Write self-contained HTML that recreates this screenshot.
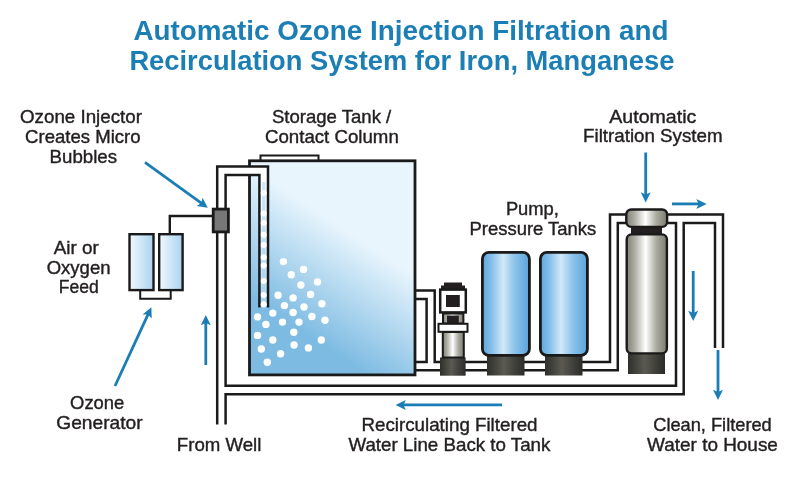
<!DOCTYPE html>
<html>
<head>
<meta charset="utf-8">
<title>Automatic Ozone Injection Filtration and Recirculation System</title>
<style>
html,body{margin:0;padding:0;background:#fff;}
body{width:800px;height:480px;overflow:hidden;font-family:"Liberation Sans",sans-serif;}
svg{display:block;will-change:transform;}
.t{font-family:"Liberation Sans",sans-serif;font-size:18.5px;fill:#231f20;stroke:#231f20;stroke-width:0.4;text-anchor:middle;}
.h{font-family:"Liberation Sans",sans-serif;font-weight:bold;font-size:27.5px;fill:#1b7eb5;text-anchor:middle;}
.p{fill:none;stroke:#1a1a1a;stroke-width:2.5;stroke-linejoin:miter;stroke-linecap:butt;}
.a{stroke:#1a7db6;stroke-width:2.8;fill:none;}
.ah{fill:#1a7db6;stroke:none;}
</style>
</head>
<body>
<svg width="800" height="480" viewBox="0 0 800 480">
<defs>
<linearGradient id="gTank" gradientUnits="userSpaceOnUse" x1="361.7" y1="240.7" x2="301.2" y2="331.2">
<stop offset="0" stop-color="#e8f5fd"/><stop offset="1" stop-color="#7dbbe2"/>
</linearGradient>
<linearGradient id="gGen" x1="0" y1="0" x2="1" y2="0">
<stop offset="0" stop-color="#f2f9fe"/><stop offset="1" stop-color="#a9d3f0"/>
</linearGradient>
<linearGradient id="gPT" x1="0" y1="0" x2="1" y2="0">
<stop offset="0" stop-color="#5ea6dc"/><stop offset="0.2" stop-color="#86c0ea"/><stop offset="0.44" stop-color="#d2e8f8"/><stop offset="0.68" stop-color="#8cc4ea"/><stop offset="1" stop-color="#5ba3da"/>
</linearGradient>
<linearGradient id="gSil" x1="0" y1="0" x2="1" y2="0">
<stop offset="0" stop-color="#818176"/><stop offset="0.2" stop-color="#adada3"/><stop offset="0.47" stop-color="#ffffff"/><stop offset="0.74" stop-color="#aaaaa0"/><stop offset="1" stop-color="#7c7c71"/>
</linearGradient>
<linearGradient id="gBase" x1="0" y1="0" x2="1" y2="0">
<stop offset="0" stop-color="#2f2f2b"/><stop offset="0.45" stop-color="#5a5a52"/><stop offset="1" stop-color="#2b2b28"/>
</linearGradient>
</defs>
<rect width="800" height="480" fill="#fff"/>

<!-- TITLE -->
<g id="title">
<text class="h" x="401" y="40" textLength="535" lengthAdjust="spacingAndGlyphs">Automatic Ozone Injection Filtration and</text>
<text class="h" x="401.9" y="69.6" textLength="545" lengthAdjust="spacingAndGlyphs">Recirculation System for Iron, Manganese</text>
</g>

<!-- STORAGE TANK -->
<g id="tank">
<rect x="260.5" y="155.5" width="58" height="6" fill="#fff" stroke="#1a1a1a" stroke-width="2"/>
<rect x="249.5" y="160.8" width="165.5" height="214.1" fill="url(#gTank)" stroke="#1a1a1a" stroke-width="2.8"/>
</g>

<!-- PIPES -->
<g id="pipes">
<!-- well pipe fill -->
<path d="M217,424.6 V166.5 H268 V176 H225.6 V424.6 Z" fill="#fff" stroke="none"/>
<linearGradient id="gTube" gradientUnits="userSpaceOnUse" x1="0" y1="176" x2="0" y2="307"><stop offset="0" stop-color="#fff" stop-opacity="1"/><stop offset="0.12" stop-color="#fff" stop-opacity="0.95"/><stop offset="0.5" stop-color="#fff" stop-opacity="0.55"/><stop offset="1" stop-color="#fff" stop-opacity="0.35"/></linearGradient>
<rect x="259.4" y="175" width="8.6" height="132.5" fill="url(#gTube)"/>
<path class="p" d="M217.2,424.6 V166.5 H268 V307.5"/>
<path class="p" d="M259.4,307.5 V175 H225.6 V385.8 H676 V223 H617.8 V370.2 H416"/>
<path class="p" d="M225.6,424.6 V394.2 H683.7 V223 H715 V348"/>
<path class="p" d="M723,348 V214.6 H610 V362 H465"/>
<path class="p" d="M440,362 H434.7 V290.6 H416"/>
<path class="p" d="M416,299 H426.6 V362 H416"/>
</g>

<!-- PIPE BUBBLES / DROP TUBE -->
<g id="droptube">
<linearGradient id="gStrip" x1="0" y1="0" x2="0" y2="1"><stop offset="0" stop-color="#d3e9f8"/><stop offset="1" stop-color="#a6d1ee"/></linearGradient>
<rect x="262" y="182" width="3.4" height="125.5" fill="url(#gStrip)"/>
<g fill="#fff"><circle cx="263.7" cy="192.9" r="3"/><circle cx="263.7" cy="213.5" r="3"/><circle cx="263.7" cy="222.9" r="3"/><circle cx="263.7" cy="234.8" r="3"/><circle cx="263.7" cy="245.1" r="3"/><circle cx="263.7" cy="257.3" r="3"/><circle cx="263.7" cy="265.6" r="3"/><circle cx="263.7" cy="281.1" r="3"/><circle cx="263.7" cy="295.1" r="3"/><circle cx="263.7" cy="304.3" r="3"/></g>
</g>

<!-- TANK BUBBLES -->
<g id="bubbles" fill="#fff">
<circle cx="283.4" cy="261.6" r="3.7"/><circle cx="303.5" cy="269.4" r="3.7"/><circle cx="291.3" cy="274.8" r="3.7"/>
<circle cx="317.5" cy="281.9" r="3.7"/><circle cx="300.9" cy="285" r="3.7"/><circle cx="278.1" cy="295.3" r="3.7"/>
<circle cx="310.6" cy="294.4" r="3.7"/><circle cx="293.1" cy="297.9" r="3.7"/><circle cx="321.9" cy="303.8" r="3.7"/>
<circle cx="284.4" cy="305.6" r="3.7"/><circle cx="304" cy="307" r="3.7"/><circle cx="293.1" cy="312.5" r="3.7"/>
<circle cx="272.8" cy="313.1" r="3.7"/><circle cx="257.5" cy="316.9" r="3.7"/><circle cx="311.9" cy="316.5" r="3.7"/>
<circle cx="325" cy="320.3" r="3.7"/><circle cx="265.9" cy="324.4" r="3.7"/><circle cx="282.5" cy="322.1" r="3.7"/>
<circle cx="299" cy="322.1" r="3.7"/><circle cx="293.8" cy="332.3" r="3.7"/><circle cx="257.5" cy="335.4" r="3.7"/>
<circle cx="272.8" cy="340" r="3.7"/><circle cx="321.3" cy="340" r="3.7"/><circle cx="294.1" cy="345" r="3.7"/>
<circle cx="308.4" cy="347.9" r="3.7"/><circle cx="261.3" cy="349" r="3.7"/><circle cx="280.6" cy="353.8" r="3.7"/>
<circle cx="267.3" cy="362.3" r="3.7"/>
</g>

<!-- OZONE GENERATOR + INJECTOR -->
<g id="generator">
<path d="M169.8,235 V216 H213" fill="none" stroke="#1a1a1a" stroke-width="2.4"/>
<path d="M140.2,291 V298.7 H170.7 V291" fill="none" stroke="#1a1a1a" stroke-width="2"/>
<rect x="129.5" y="234.2" width="24" height="55.9" fill="url(#gGen)" stroke="#1a1a1a" stroke-width="2.4"/>
<rect x="159.2" y="234.2" width="23.4" height="55.9" fill="url(#gGen)" stroke="#1a1a1a" stroke-width="2.4"/>
<rect x="213.2" y="209.1" width="15.2" height="22.8" fill="#777" stroke="#1a1a1a" stroke-width="2.8"/>
</g>

<!-- PUMP -->
<g id="pump">
<rect x="440" y="357.5" width="25.6" height="18.2" fill="url(#gBase)"/>
<rect x="442.8" y="332" width="21" height="25.5" fill="url(#gSil)" stroke="#1a1a1a" stroke-width="2"/>
<rect x="443" y="313.5" width="20.4" height="10" fill="url(#gSil)" stroke="#1a1a1a" stroke-width="2"/>
<rect x="447" y="315.6" width="11.8" height="8" fill="#231f20"/>
<rect x="438.5" y="323.8" width="29" height="8" fill="#fff" stroke="#1a1a1a" stroke-width="2"/>
<path d="M444,282.5 H462 V285.5 H465 V289 H441 V285.5 H444 Z" fill="#231f20"/>
<rect x="440.2" y="289.6" width="25.6" height="22.8" fill="#fff" stroke="#1a1a1a" stroke-width="2.5"/>
<rect x="446" y="295" width="13.8" height="12" fill="#231f20"/>
</g>

<!-- PRESSURE TANKS -->
<g id="ptanks">
<rect x="487" y="354" width="37.5" height="21.5" fill="url(#gBase)"/>
<rect x="545" y="354" width="37.5" height="21.5" fill="url(#gBase)"/>
<rect x="482.4" y="252.4" width="47" height="103" rx="6.5" ry="6.5" fill="url(#gPT)" stroke="#1a1a1a" stroke-width="2.8"/>
<rect x="540.4" y="252.4" width="47" height="103" rx="6.5" ry="6.5" fill="url(#gPT)" stroke="#1a1a1a" stroke-width="2.8"/>
</g>

<!-- FILTER -->
<g id="filter">
<rect x="628" y="352" width="37" height="22" fill="url(#gBase)"/>
<rect x="631" y="226" width="31" height="9" fill="#231f20"/>
<rect x="626.7" y="234.4" width="40.2" height="119" rx="5" ry="5" fill="url(#gSil)" stroke="#1a1a1a" stroke-width="2.4"/>
<rect x="626.3" y="209.5" width="40.8" height="17.4" rx="5" ry="5" fill="url(#gSil)" stroke="#1a1a1a" stroke-width="2.4"/>
</g>

<!-- ARROWS -->
<g id="arrows">
<path class="a" d="M145,162.3 L202.0,203.6"/><path class="ah" d="M207.8,207.8 L196.6,205.9 L201.3,203.1 L202.5,197.8 Z"/>
<path class="a" d="M645.7,152.5 L645.7,195.3"/><path class="ah" d="M645.7,202.5 L640.7,192.3 L645.7,194.5 L650.7,192.3 Z"/>
<path class="a" d="M672,203.9 L699.4,203.9"/><path class="ah" d="M706.6,203.9 L696.4,208.9 L698.6,203.9 L696.4,198.9 Z"/>
<path class="a" d="M693.2,271 L693.2,313.8"/><path class="ah" d="M693.2,321.0 L688.2,310.8 L693.2,313.0 L698.2,310.8 Z"/>
<path class="a" d="M718,350 L718.0,392.8"/><path class="ah" d="M718.0,400.0 L713.0,389.8 L718.0,392.0 L723.0,389.8 Z"/>
<path class="a" d="M502,404.9 L402.8,404.9"/><path class="ah" d="M395.6,404.9 L405.8,399.9 L403.6,404.9 L405.8,409.9 Z"/>
<path class="a" d="M205.8,365 L205.8,322.2"/><path class="ah" d="M205.8,315.0 L210.8,325.2 L205.8,323.0 L200.8,325.2 Z"/>
<path class="a" d="M115.0,386.0 L148.4,313.7"/><path class="ah" d="M151.4,307.2 L151.7,318.6 L148.0,314.5 L142.6,314.4 Z"/>
</g>

<!-- LABELS -->
<g id="labels">
<text class="t" x="81" y="123" textLength="122" lengthAdjust="spacingAndGlyphs">Ozone Injector</text>
<text class="t" x="82.8" y="143" textLength="115.5" lengthAdjust="spacingAndGlyphs">Creates Micro</text>
<text class="t" x="83.3" y="162.5" textLength="67.5" lengthAdjust="spacingAndGlyphs">Bubbles</text>

<text class="t" x="331.6" y="123" textLength="119.3" lengthAdjust="spacingAndGlyphs">Storage Tank /</text>
<text class="t" x="331.9" y="142.5" textLength="133.8" lengthAdjust="spacingAndGlyphs">Contact Column</text>

<text class="t" x="652.8" y="122.5" textLength="87" lengthAdjust="spacingAndGlyphs">Automatic</text>
<text class="t" x="652.8" y="142" textLength="139.5" lengthAdjust="spacingAndGlyphs">Filtration System</text>

<text class="t" x="532.4" y="214.8" textLength="53" lengthAdjust="spacingAndGlyphs">Pump,</text>
<text class="t" x="532.9" y="234.5" textLength="126.8" lengthAdjust="spacingAndGlyphs">Pressure Tanks</text>

<text class="t" x="76.3" y="253.8" textLength="45" lengthAdjust="spacingAndGlyphs">Air or</text>
<text class="t" x="78.6" y="273.8" textLength="63.8" lengthAdjust="spacingAndGlyphs">Oxygen</text>
<text class="t" x="78.8" y="293.3" textLength="40" lengthAdjust="spacingAndGlyphs">Feed</text>

<text class="t" x="97.2" y="408.8" textLength="54.2" lengthAdjust="spacingAndGlyphs">Ozone</text>
<text class="t" x="99.4" y="428.8" textLength="86.3" lengthAdjust="spacingAndGlyphs">Generator</text>

<text class="t" x="219.1" y="450.5" textLength="84.5" lengthAdjust="spacingAndGlyphs">From Well</text>

<text class="t" x="449.5" y="430.9" textLength="176" lengthAdjust="spacingAndGlyphs">Recirculating Filtered</text>
<text class="t" x="449.4" y="450.8" textLength="202" lengthAdjust="spacingAndGlyphs">Water Line Back to Tank</text>

<text class="t" x="712.5" y="430.6" textLength="118.5" lengthAdjust="spacingAndGlyphs">Clean, Filtered</text>
<text class="t" x="712.5" y="450.5" textLength="130.8" lengthAdjust="spacingAndGlyphs">Water to House</text>
</g>
</svg>
</body>
</html>
